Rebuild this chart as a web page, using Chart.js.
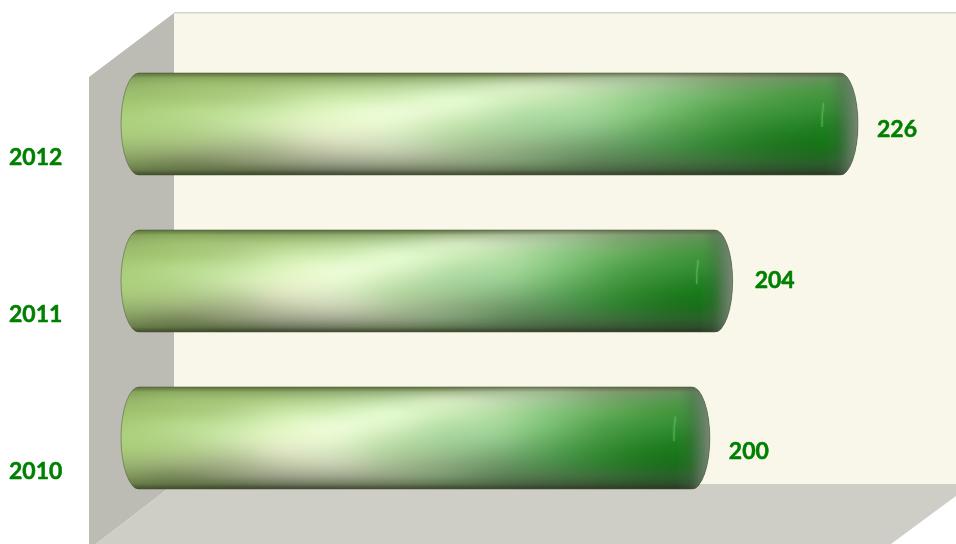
<!DOCTYPE html>
<html>
<head>
<meta charset="utf-8">
<style>html,body{margin:0;padding:0;background:#fff}#w{width:956px;height:544px}</style>
<script src="https://cdn.jsdelivr.net/npm/chart.js@4"></script>
</head>
<body>
<div id="w"><canvas id="c" width="956" height="544"></canvas></div>
<script>
const categories = ['2012', '2011', '2010'];
const values = [226, 204, 200];
const labelShift = [[19, 6], [22, 0], [19, 14]];

// Colour swatches of the cylinder surface: one row per line across the bar, one column per step along it.
const shade = [
  ['7a9650','80a058','7d9a55','7c9858','7c9a5c','7f9c60','8a9e6c','9aae88','a0b090','8a9a78','7c8c6c','6e8a60'],
  ['94b468','9fc070','a5c478','b0cc88','b5d295','c0dca8','d4e8c0','c0d8b0','9cc490','78a86c','5c9a54','4a9446'],
  ['9ec26e','a6c876','b2d28a','cce8a8','d5efb8','e4fbd0','d0ecba','b4dea4','88c680','66ac5c','48983f','3a9238'],
  ['a8cc78','b5d98a','c5e4a0','dff5c0','ecfcd8','def4c8','b8e0a8','a6d89a','7cc074','50a04a','3a9238','2c8a2c'],
  ['acd07e','b4d68a','cce6aa','e6f4c8','e8f8d0','c6e4b0','a8d49c','96cc90','6ab064','44963f','2a862a','1a7e1a'],
  ['a8ca78','aecb84','bcd29c','dfe6c4','d8e8c4','b4d4a0','9cc490','82b47c','58a058','348a32','1e7a1e','127a14'],
  ['98b670','9cb078','a5b48a','c5caaa','c8d2b4','a8bf94','8eac80','6f9a68','4e8e4c','2f7e2f','1e701e','147014'],
  ['80985c','78885a','8a9570','9ca28a','a0a88e','92a282','7a9a70','5e8258','4c7648','3a6c38','2a622a','2a5e2a'],
  ['5c7040','55693a','4e5e38','556048','5a6448','5a6648','4f5f40','465a3e','3c5036','344a2e','2e442a','2a4026']
];

function surface() {
  const cv = document.createElement('canvas');
  cv.width = shade[0].length; cv.height = shade.length;
  const s = cv.getContext('2d');
  shade.forEach((row, j) => row.forEach((col, i) => {
    s.fillStyle = '#' + col;
    s.fillRect(i, j, 1, 1);
  }));
  return cv;
}

const room = {
  id: 'room',
  beforeDraw(chart) {
    const g = chart.ctx;
    g.save();
    g.fillStyle = '#f8f7e9';
    g.fillRect(174, 13, 782, 471);
    g.fillStyle = '#d6d5cd';
    g.fillRect(174, 12, 782, 1.5);
    g.fillStyle = '#bcbbb4';
    g.beginPath(); g.moveTo(89, 77); g.lineTo(174, 13); g.lineTo(174, 484); g.lineTo(96, 544); g.lineTo(89, 544); g.closePath(); g.fill();
    g.fillStyle = '#cfcec6';
    g.beginPath(); g.moveTo(174, 484); g.lineTo(956, 484); g.lineTo(956, 496); g.lineTo(891, 544); g.lineTo(96, 544); g.closePath(); g.fill();
    g.restore();
  }
};

function cyl(g, lx, rx, top, bot, ex) {
  const cy = (top + bot) / 2, ry = (bot - top) / 2;
  g.beginPath();
  g.moveTo(lx, top);
  g.lineTo(rx, top);
  g.ellipse(rx, cy, ex, ry, 0, -Math.PI / 2, Math.PI / 2);
  g.lineTo(lx, bot);
  g.ellipse(lx, cy, ex, ry, 0, Math.PI / 2, Math.PI * 1.5);
  g.closePath();
}

const cylinders = {
  id: 'cylinders',
  afterDatasetsDraw(chart) {
    const g = chart.ctx;
    const tex = surface();
    chart.getDatasetMeta(0).data.forEach((b) => {
      const top = b.y - b.height / 2, bot = b.y + b.height / 2;
      const lx = b.base, rx = b.x, ex = 18, h = bot - top;
      const x0 = lx - ex, x1 = rx + ex, cy = (top + bot) / 2;
      g.save();
      cyl(g, lx, rx, top, bot, ex);
      g.clip();
      g.imageSmoothingEnabled = true;
      g.imageSmoothingQuality = 'high';
      g.drawImage(tex, 0.5, 0.5, tex.width - 1, tex.height - 1, x0, top, x1 - x0, h);
      let a = g.createLinearGradient(0, top, 0, bot);
      a.addColorStop(0, 'rgba(60,70,35,.5)');
      a.addColorStop(0.05, 'rgba(60,70,35,0)');
      a.addColorStop(0.95, 'rgba(40,45,30,0)');
      a.addColorStop(1, 'rgba(40,45,30,.5)');
      g.fillStyle = a;
      g.fillRect(x0, top, x1 - x0, h);
      a = g.createLinearGradient(rx - 15, 0, rx + ex, 0);
      a.addColorStop(0, 'rgba(100,115,100,0)');
      a.addColorStop(0.35, 'rgba(80,100,80,.25)');
      a.addColorStop(0.7, 'rgba(105,120,105,.7)');
      a.addColorStop(1, 'rgba(125,135,120,.98)');
      g.fillStyle = a;
      g.fillRect(rx - 15, top, ex + 15, h);
      g.restore();
      // soft light rim of the end cap
      g.save();
      g.strokeStyle = 'rgba(110,190,110,.55)';
      g.shadowColor = 'rgba(110,190,110,.7)';
      g.shadowBlur = 3;
      g.lineWidth = 1.4;
      g.beginPath();
      g.ellipse(rx, cy, ex, h / 2, 0, Math.PI - 0.06, Math.PI + 0.43);
      g.stroke();
      g.restore();
      // outline
      g.save();
      cyl(g, lx, rx, top, bot, ex);
      g.strokeStyle = 'rgba(70,85,50,.5)';
      g.lineWidth = 1;
      g.stroke();
      g.restore();
    });
  },
  afterDraw(chart) {
    const g = chart.ctx;
    const meta = chart.getDatasetMeta(0);
    const ys = chart.scales.y;
    g.save();
    g.font = 'bold 23px Lato, "Open Sans", sans-serif';
    g.fillStyle = '#008000';
    g.strokeStyle = '#008000';
    g.lineWidth = 0.5;
    g.textBaseline = 'middle';
    g.textAlign = 'left';
    const put = (t, x, y) => { g.fillText(t, x, y); g.strokeText(t, x, y); };
    meta.data.forEach((b, i) => {
      put(String(values[i]), b.x + 18 + labelShift[i][0], b.y + labelShift[i][1]);
      put(categories[i], 9, ys.getPixelForValue(i) + 34);
    });
    g.restore();
  }
};

new Chart(document.getElementById('c'), {
  type: 'bar',
  data: {
    labels: categories,
    datasets: [{
      data: values,
      base: 103,
      backgroundColor: '#4da050',
      borderWidth: 0,
      barPercentage: 0.65,
      categoryPercentage: 1
    }]
  },
  options: {
    indexAxis: 'y',
    responsive: false,
    animation: false,
    layout: { padding: { left: 139, right: 2, top: 45.5, bottom: 27.5 } },
    plugins: { legend: { display: false }, title: { display: false }, tooltip: { enabled: false } },
    scales: {
      x: { min: 103, max: 246, display: false, grid: { display: false } },
      y: { display: false, grid: { display: false } }
    }
  },
  plugins: [room, cylinders]
});
</script>
</body>
</html>
